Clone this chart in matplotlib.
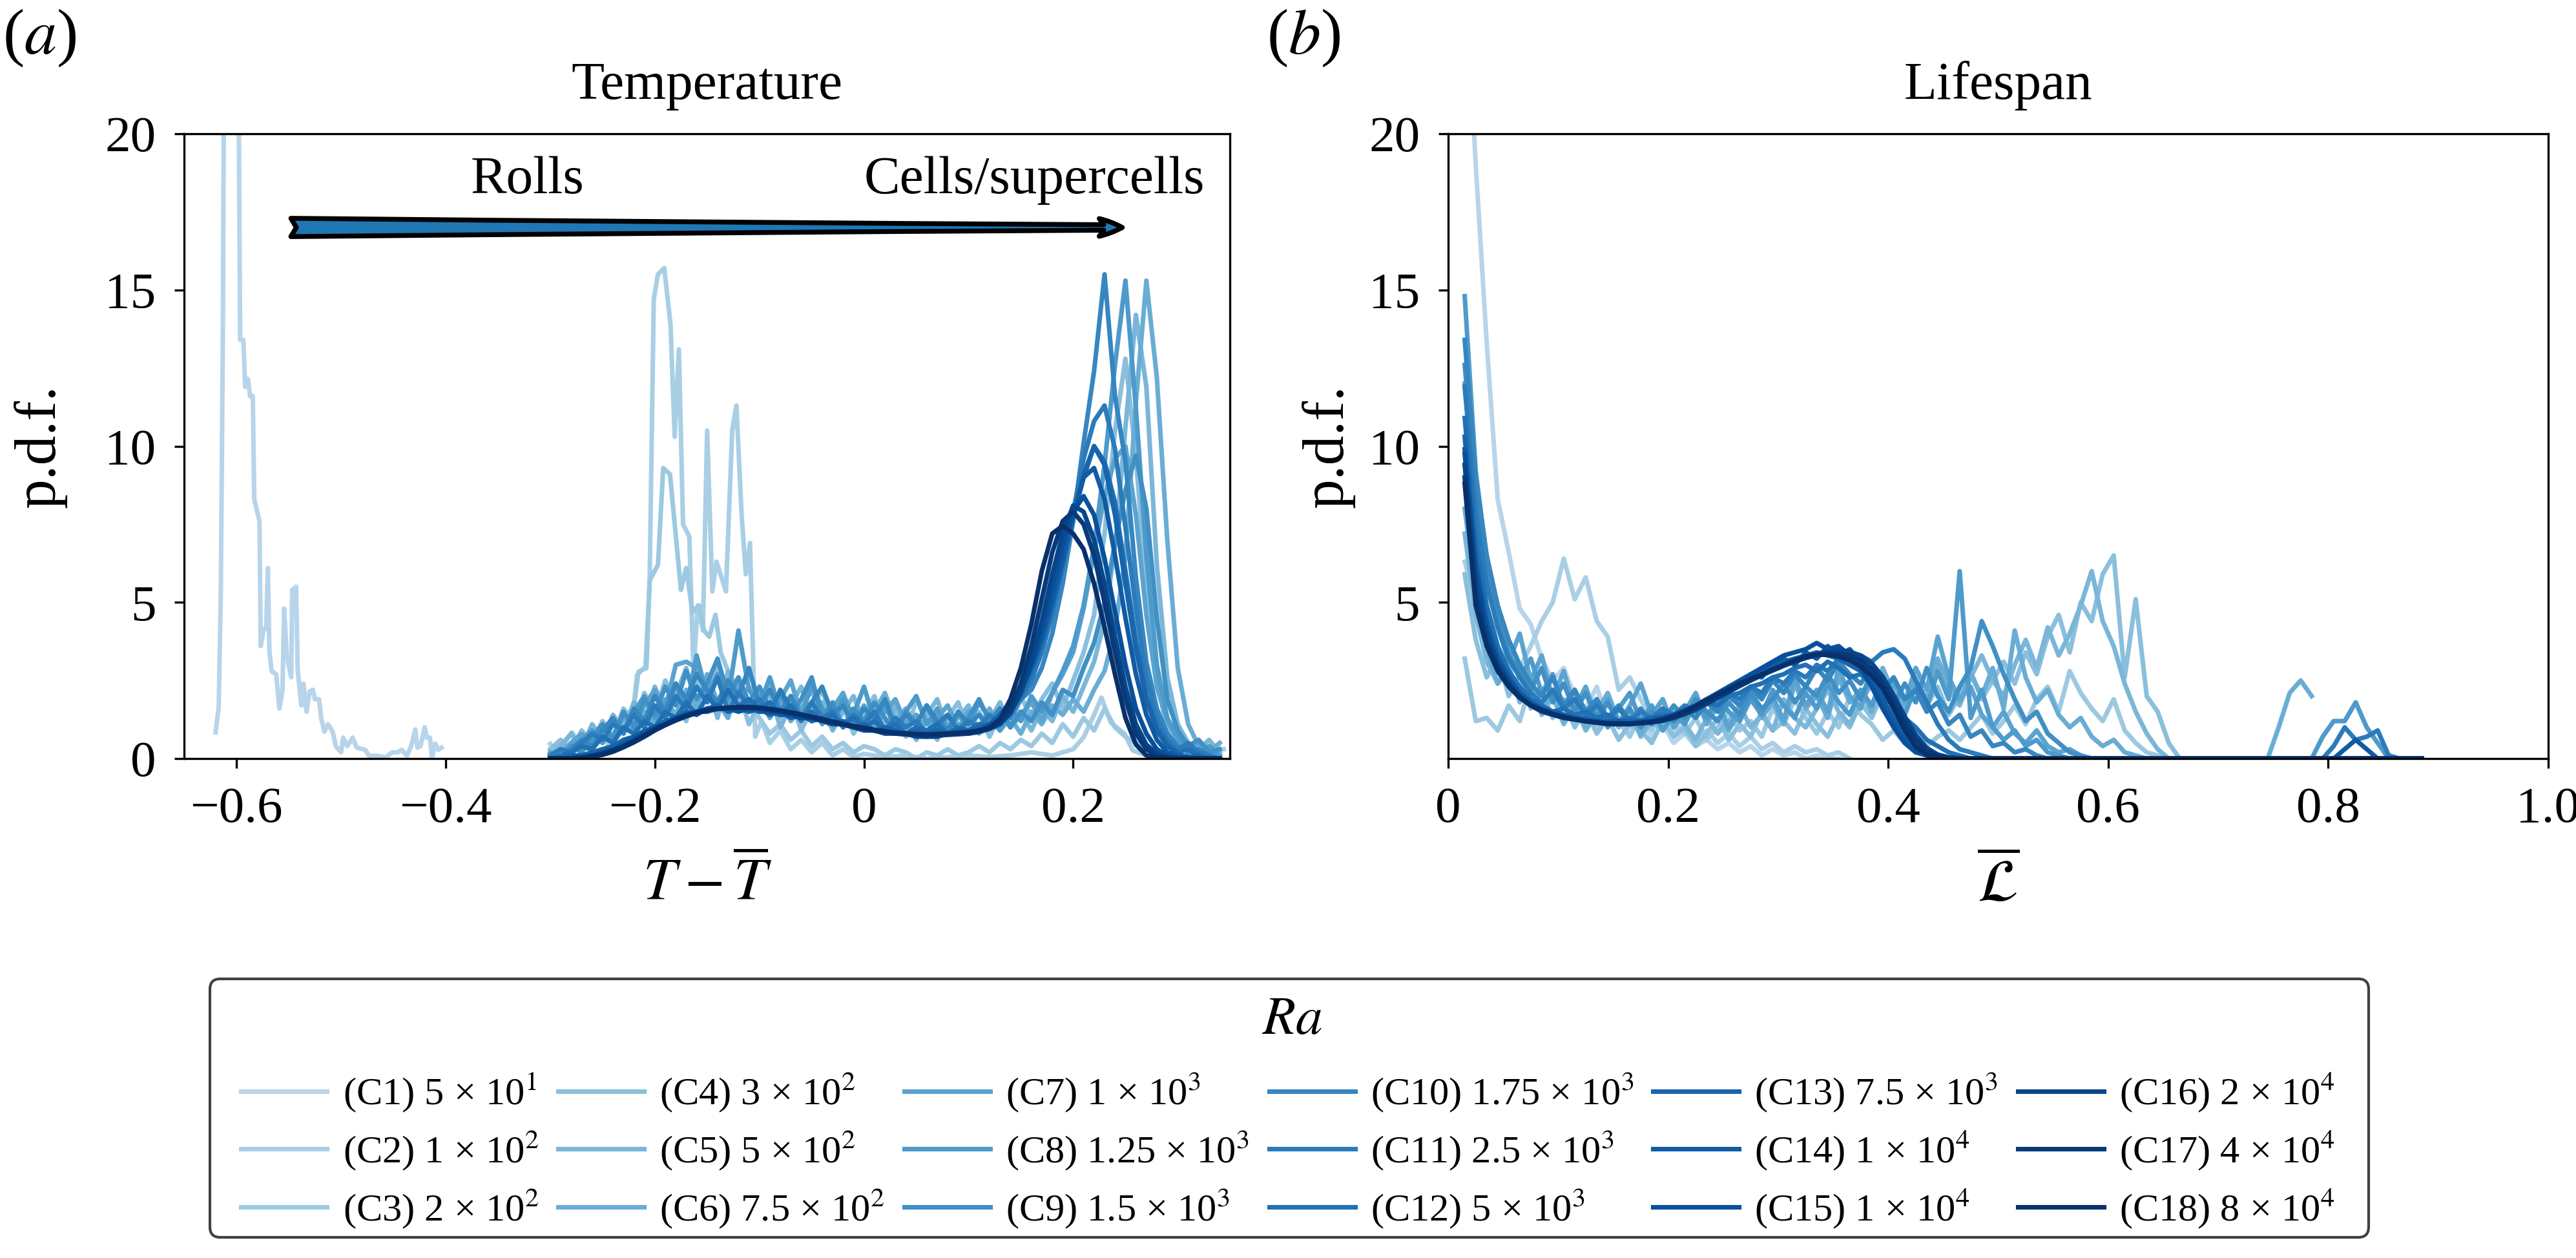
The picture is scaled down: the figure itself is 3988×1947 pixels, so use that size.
import numpy as np
import matplotlib
matplotlib.use('Agg')
import matplotlib.pyplot as plt
from matplotlib.patches import FancyBboxPatch

plt.rcParams['font.family'] = ['Liberation Serif', 'DejaVu Serif']
plt.rcParams['mathtext.fontset'] = 'stix'

# legend labels (Rayleigh numbers of the 18 cases)
ra_labels = [
    '(C1) 5 × 10$^{1}$', '(C2) 1 × 10$^{2}$', '(C3) 2 × 10$^{2}$',
    '(C4) 3 × 10$^{2}$', '(C5) 5 × 10$^{2}$', '(C6) 7.5 × 10$^{2}$',
    '(C7) 1 × 10$^{3}$', '(C8) 1.25 × 10$^{3}$', '(C9) 1.5 × 10$^{3}$',
    '(C10) 1.75 × 10$^{3}$', '(C11) 2.5 × 10$^{3}$', '(C12) 5 × 10$^{3}$',
    '(C13) 7.5 × 10$^{3}$', '(C14) 1 × 10$^{4}$', '(C15) 1 × 10$^{4}$',
    '(C16) 2 × 10$^{4}$', '(C17) 4 × 10$^{4}$', '(C18) 8 × 10$^{4}$',
]

# ---------------- panel (a): temperature p.d.f. ----------------
temp_c1_x = [-0.620, -0.617, -0.615, -0.613, -0.611, -0.605, -0.600, -0.5965, -0.5934, -0.5917,
             -0.589, -0.587, -0.5844, -0.583, -0.578, -0.5768, -0.574, -0.5716, -0.570, -0.5685,
             -0.5664, -0.562, -0.559, -0.556, -0.5544, -0.552, -0.5477, -0.5467, -0.543, -0.5415,
             -0.538, -0.536, -0.533, -0.530, -0.527, -0.525, -0.521, -0.519, -0.516, -0.5125,
             -0.508, -0.505, -0.500, -0.498, -0.494, -0.489, -0.485, -0.477, -0.473, -0.465,
             -0.458, -0.451, -0.446, -0.442, -0.437, -0.433, -0.429, -0.427, -0.424, -0.420,
             -0.418, -0.415, -0.413, -0.410, -0.407, -0.404]
temp_c1_y = [0.84, 1.64, 5.25, 13.6, 30.0, 38.0, 33.0, 13.4, 13.4, 11.9,
             12.15, 11.6, 11.6, 8.3, 7.6, 3.6, 4.15, 4.15, 6.1, 3.45,
             2.8, 2.7, 1.6, 2.2, 4.8, 3.3, 2.6, 5.4, 5.5, 2.85,
             1.7, 2.4, 1.5, 2.15, 2.2, 1.9, 1.9, 1.3, 0.86, 1.1,
             0.86, 0.4, 0.2, 0.67, 0.4, 0.67, 0.35, 0.28, 0.09, 0.09,
             0.03, 0.2, 0.2, 0.28, 0.09, 0.4, 0.93, 0.35, 0.4, 1.0,
             0.67, 0.67, 0.03, 0.48, 0.28, 0.35]

temp_c2_x = [-0.300, -0.293, -0.288, -0.279, -0.270, -0.263, -0.252, -0.244, -0.236, -0.228,
             -0.221, -0.217, -0.209, -0.205, -0.201, -0.197, -0.191, -0.185, -0.181, -0.177,
             -0.173, -0.167, -0.163, -0.159, -0.154, -0.150, -0.145, -0.141, -0.132, -0.126,
             -0.122, -0.117, -0.113, -0.109, -0.104, -0.098, -0.090, -0.080, -0.070, -0.060,
             -0.050, -0.040, -0.030, -0.020, -0.010, 0.000, 0.020, 0.040, 0.060, 0.080,
             0.100, 0.120, 0.140, 0.160, 0.180, 0.200, 0.210, 0.220, 0.227, 0.236,
             0.249, 0.257, 0.270, 0.290, 0.310, 0.330, 0.344]
temp_c2_y = [0.47, 0.10, 0.42, 0.84, 0.31, 0.31, 0.89, 0.40, 1.05, 1.52,
             1.42, 2.68, 2.94, 5.6, 14.7, 15.5, 15.7, 13.9, 10.3, 13.1,
             7.5, 7.1, 2.8, 4.9, 4.1, 10.5, 5.35, 6.3, 5.35, 10.5,
             11.3, 7.8, 5.9, 6.9, 0.7, 1.2, 0.5, 0.9, 0.3, 0.6,
             0.2, 0.5, 0.1, 0.3, 0.05, 0.15, 0.05, 0.1, 0.0, 0.05,
             0.1, 0.05, 0.1, 0.2, 0.1, 0.3, 0.68, 1.4, 1.95, 1.15,
             0.8, 0.26, 0.1, 0.05, 0.1, 0.2, 0.3]

temp_c3_x = [-0.300, -0.29, -0.28, -0.27, -0.26, -0.25, -0.24, -0.23, -0.221, -0.2156,
             -0.208, -0.205, -0.197, -0.192, -0.1855, -0.179, -0.175, -0.170, -0.164, -0.1575,
             -0.153, -0.148, -0.142, -0.137, -0.13, -0.12, -0.11, -0.10, -0.09, -0.08,
             -0.07, -0.06, -0.05, -0.04, -0.03, -0.02, -0.01, 0.0, 0.01, 0.02,
             0.03, 0.04, 0.05, 0.06, 0.07, 0.08, 0.09, 0.10, 0.11, 0.12,
             0.13, 0.14, 0.15, 0.16, 0.17, 0.18, 0.19, 0.20, 0.21, 0.22,
             0.23, 0.24, 0.25, 0.26, 0.27, 0.28, 0.29, 0.30]
temp_c3_y = [0.2, 0.5, 0.3, 0.7, 0.4, 0.9, 0.6, 1.2, 1.4, 2.78,
             2.9, 5.7, 6.2, 9.3, 9.1, 6.8, 5.4, 6.1, 4.7, 4.9,
             4.1, 3.9, 4.6, 3.4, 2.8, 2.2, 1.8, 1.3, 0.8, 1.1,
             0.6, 0.9, 0.4, 0.7, 0.3, 0.5, 0.2, 0.4, 0.3, 0.1,
             0.3, 0.2, 0.0, 0.2, 0.1, 0.3, 0.1, 0.2, 0.4, 0.2,
             0.5, 0.3, 0.6, 0.4, 0.8, 0.5, 1.1, 0.7, 1.3, 0.9,
             1.6, 1.0, 0.7, 0.5, 0.3, 0.2, 0.1, 0.0]

# C4..C18 are sampled on bins of 0.01 from -0.30 to 0.34
temp_bin_start = -0.30
temp_bin_width = 0.01

temp_c4 = [0.3, 0.6, 0.2, 0.9, 0.5, 1.2, 0.7, 1.6, 1.0, 2.1,
           1.4, 2.5, 1.8, 1.2, 2.6, 1.9, 3.0, 1.5, 2.2, 1.1,
           1.8, 2.4, 1.3, 1.9, 0.9, 1.6, 2.2, 1.1, 1.7, 0.8,
           1.4, 2.0, 1.0, 1.5, 0.7, 1.9, 1.2, 0.6, 1.3, 1.8,
           0.9, 1.5, 0.7, 1.4, 1.0, 2.0, 1.3, 1.9, 2.4, 1.6,
           2.5, 3.4, 4.6, 7.2, 10.5, 12.8, 9.6, 5.5, 2.4, 1.0,
           0.5, 0.2, 0.4, 0.1, 0.0]
temp_c5 = [0.1, 0.4, 0.8, 0.3, 1.1, 0.6, 1.4, 0.9, 1.8, 1.2,
           2.3, 1.5, 2.0, 2.9, 1.7, 2.4, 1.3, 2.8, 1.9, 2.3,
           1.5, 2.1, 1.0, 1.7, 2.3, 1.2, 1.8, 0.9, 1.5, 2.0,
           1.1, 1.6, 0.8, 1.7, 1.2, 0.6, 1.4, 1.9, 0.9, 1.3,
           1.7, 0.8, 1.2, 1.8, 1.1, 1.5, 0.9, 1.6, 1.2, 2.0,
           1.5, 2.3, 3.1, 4.4, 6.8, 10.6, 14.2, 11.9, 6.2, 2.6,
           1.1, 0.5, 0.3, 0.6, 0.2]
temp_c6 = [0.0, 0.2, 0.5, 0.3, 0.7, 1.0, 0.6, 1.3, 0.8, 1.5,
           1.1, 1.9, 1.4, 2.2, 1.6, 2.7, 1.8, 1.3, 2.4, 1.7,
           2.1, 1.4, 1.9, 1.2, 1.6, 2.2, 1.3, 1.0, 1.8, 1.4,
           0.9, 1.5, 2.1, 1.2, 1.6, 1.0, 0.7, 1.5, 1.1, 0.8,
           1.4, 1.0, 1.6, 0.9, 1.3, 0.8, 1.5, 1.1, 1.7, 1.4,
           1.9, 1.5, 2.2, 2.8, 4.1, 6.5, 11.4, 15.3, 12.2, 7.0,
           2.9, 1.1, 0.4, 0.2, 0.5]
temp_c7 = [0.2, 0.1, 0.5, 0.8, 0.4, 1.0, 0.7, 1.4, 1.1, 1.7,
           2.2, 1.6, 3.0, 3.1, 2.9, 2.1, 2.6, 1.7, 2.3, 1.5,
           2.0, 1.3, 1.9, 2.5, 1.4, 1.8, 1.1, 1.6, 2.1, 1.2,
           1.7, 1.0, 1.5, 1.9, 1.1, 1.4, 0.8, 1.3, 1.7, 1.0,
           1.5, 0.9, 1.2, 1.6, 1.0, 1.4, 1.8, 1.2, 2.1, 2.7,
           3.4, 4.8, 6.6, 8.4, 9.6, 10.0, 7.8, 4.6, 2.3, 1.2,
           0.6, 0.3, 0.5, 0.2, 0.1]
temp_c8 = [0.0, 0.3, 0.1, 0.6, 0.9, 0.5, 1.2, 0.8, 1.5, 2.0,
           1.3, 1.8, 2.4, 1.6, 3.3, 2.0, 2.7, 1.9, 4.1, 2.2,
           1.7, 2.6, 1.5, 2.0, 1.3, 2.4, 1.6, 1.2, 1.9, 1.4,
           2.3, 1.2, 1.7, 1.0, 1.5, 2.0, 1.1, 1.6, 0.9, 1.4,
           1.1, 1.8, 1.3, 0.9, 1.6, 1.2, 2.0, 1.5, 2.1, 2.8,
           3.6, 4.9, 6.8, 9.4, 12.6, 15.3, 11.2, 6.5, 3.0, 1.3,
           0.7, 0.3, 0.2, 0.4, 0.1]
temp_c9 = [0.1, 0.0, 0.4, 0.2, 0.7, 1.1, 0.6, 1.5, 1.0, 1.9,
           1.4, 2.3, 1.7, 2.8, 1.9, 2.4, 3.2, 2.0, 2.6, 1.8,
           2.3, 1.6, 2.1, 1.4, 1.9, 2.6, 1.3, 1.8, 1.0, 1.6,
           1.2, 1.8, 1.3, 0.8, 1.5, 1.1, 1.7, 1.0, 1.4, 0.9,
           1.3, 1.9, 1.2, 1.6, 1.0, 1.5, 1.2, 1.8, 1.4, 2.2,
           2.0, 2.9, 3.7, 5.0, 6.9, 8.6, 9.7, 8.0, 4.5, 1.9,
           0.9, 0.4, 0.6, 0.2, 0.3]
temp_c10 = [0.0, 0.1, 0.3, 0.6, 0.4, 0.9, 1.3, 0.8, 1.6, 1.2,
            2.0, 1.5, 2.4, 1.9, 2.7, 2.2, 1.8, 2.5, 2.0, 2.9,
            1.7, 2.2, 1.5, 2.0, 1.3, 1.8, 2.3, 1.4, 1.7, 1.1,
            1.6, 1.3, 1.9, 1.0, 1.4, 1.1, 1.7, 1.2, 0.9, 1.5,
            1.1, 1.4, 1.0, 1.6, 1.3, 1.9, 2.2, 2.9, 4.0, 5.6,
            7.6, 10.1, 12.4, 15.5, 11.6, 9.5, 5.8, 3.1, 1.6, 0.8,
            0.4, 0.2, 0.3, 0.1, 0.0]
temp_c11 = [0.1, 0.3, 0.2, 0.5, 0.8, 0.6, 1.1, 0.9, 1.4, 1.0,
            1.7, 1.3, 2.0, 1.6, 2.3, 1.8, 2.6, 1.5, 2.1, 1.7,
            1.9, 1.4, 2.2, 1.6, 1.2, 1.8, 1.3, 1.5, 1.0, 1.4,
            1.1, 1.5, 0.9, 1.3, 1.0, 1.2, 0.8, 1.1, 1.4, 0.9,
            1.2, 1.0, 1.4, 1.1, 1.6, 1.9, 2.5, 3.4, 4.6, 6.1,
            7.9, 9.6, 10.8, 11.3, 9.9, 7.4, 4.8, 2.6, 1.3, 0.6,
            0.3, 0.5, 0.2, 0.1, 0.0]
temp_c12 = [0.0, 0.1, 0.2, 0.4, 0.3, 0.7, 0.5, 1.0, 0.8, 1.2,
            1.0, 1.5, 1.3, 1.8, 1.4, 2.0, 1.6, 2.2, 1.7, 1.9,
            1.6, 1.8, 1.4, 1.7, 1.3, 1.5, 1.2, 1.4, 1.1, 1.3,
            1.0, 1.2, 0.9, 1.1, 0.8, 1.0, 0.9, 1.1, 0.8, 1.0,
            0.9, 1.1, 1.0, 1.3, 1.6, 2.0, 2.7, 3.6, 4.8, 6.2,
            7.7, 9.1, 10.0, 9.5, 8.2, 6.0, 3.8, 2.0, 1.0, 0.5,
            0.2, 0.3, 0.1, 0.0, 0.0]
temp_c13 = [0.0, 0.0, 0.1, 0.1, 0.2, 0.3, 0.4, 0.6, 0.7, 0.9,
            1.0, 1.2, 1.3, 1.5, 1.4, 1.6, 1.7, 1.5, 1.6, 1.5,
            1.6, 1.4, 1.5, 1.3, 1.4, 1.2, 1.3, 1.1, 1.2, 1.0,
            1.1, 0.9, 1.0, 0.9, 0.8, 0.9, 0.8, 0.9, 0.8, 0.9,
            0.9, 1.0, 1.1, 1.4, 1.8, 2.3, 3.0, 3.9, 5.0, 6.3,
            7.7, 9.0, 10.0, 9.4, 7.8, 5.6, 3.5, 1.9, 0.9, 0.4,
            0.15, 0.05, 0.1, 0.0, 0.0]
temp_c14 = [0.0, 0.0, 0.0, 0.1, 0.1, 0.2, 0.3, 0.5, 0.7, 0.8,
            1.0, 1.1, 1.3, 1.4, 1.5, 1.5, 1.6, 1.6, 1.5, 1.6,
            1.5, 1.5, 1.4, 1.4, 1.3, 1.3, 1.2, 1.2, 1.1, 1.0,
            1.0, 0.9, 0.9, 0.8, 0.8, 0.8, 0.7, 0.8, 0.8, 0.8,
            0.8, 0.9, 1.1, 1.3, 1.7, 2.2, 2.9, 3.8, 5.0, 6.4,
            7.8, 9.0, 9.3, 8.3, 6.5, 4.5, 2.7, 1.4, 0.6, 0.2,
            0.08, 0.02, 0.0, 0.0, 0.0]
temp_c15 = [0.0, 0.0, 0.0, 0.0, 0.1, 0.2, 0.3, 0.4, 0.6, 0.8,
            1.0, 1.1, 1.3, 1.4, 1.5, 1.6, 1.6, 1.6, 1.6, 1.6,
            1.6, 1.5, 1.5, 1.4, 1.3, 1.3, 1.2, 1.1, 1.1, 1.0,
            0.9, 0.9, 0.8, 0.8, 0.8, 0.7, 0.7, 0.7, 0.8, 0.8,
            0.8, 0.9, 1.0, 1.2, 1.6, 2.2, 3.0, 4.1, 5.4, 6.8,
            7.9, 8.4, 7.8, 6.4, 4.7, 3.0, 1.6, 0.8, 0.3, 0.1,
            0.03, 0.0, 0.0, 0.0, 0.0]
temp_c16 = [0.0, 0.0, 0.0, 0.0, 0.1, 0.15, 0.25, 0.4, 0.55, 0.75,
            0.95, 1.1, 1.25, 1.38, 1.48, 1.55, 1.6, 1.62, 1.63, 1.62,
            1.6, 1.55, 1.5, 1.44, 1.37, 1.3, 1.22, 1.15, 1.08, 1.01,
            0.95, 0.89, 0.84, 0.8, 0.77, 0.75, 0.74, 0.74, 0.76, 0.78,
            0.8, 0.85, 0.95, 1.1, 1.45, 2.1, 3.1, 4.4, 5.9, 7.2,
            8.1, 7.9, 7.0, 5.6, 3.9, 2.3, 1.1, 0.45, 0.15, 0.04,
            0.01, 0.0, 0.0, 0.0, 0.0]
temp_c17 = [0.0, 0.0, 0.0, 0.02, 0.06, 0.12, 0.22, 0.36, 0.52, 0.7,
            0.9, 1.07, 1.22, 1.35, 1.46, 1.54, 1.59, 1.62, 1.64, 1.63,
            1.61, 1.57, 1.52, 1.46, 1.39, 1.32, 1.24, 1.16, 1.09, 1.02,
            0.96, 0.9, 0.85, 0.81, 0.78, 0.76, 0.75, 0.75, 0.77, 0.79,
            0.82, 0.88, 0.98, 1.15, 1.6, 2.4, 3.6, 5.1, 6.6, 7.6,
            7.9, 7.5, 6.5, 5.0, 3.4, 1.9, 0.8, 0.3, 0.08, 0.02,
            0.0, 0.0, 0.0, 0.0, 0.0]
temp_c18 = [0.0, 0.0, 0.01, 0.03, 0.07, 0.14, 0.25, 0.39, 0.55, 0.73,
            0.92, 1.09, 1.24, 1.37, 1.47, 1.55, 1.6, 1.63, 1.65, 1.65,
            1.63, 1.59, 1.54, 1.48, 1.41, 1.34, 1.26, 1.18, 1.11, 1.04,
            0.98, 0.92, 0.87, 0.83, 0.8, 0.78, 0.77, 0.78, 0.8, 0.83,
            0.85, 0.9, 1.0, 1.25, 1.9, 2.9, 4.3, 6.0, 7.2, 7.45,
            7.2, 6.7, 5.6, 4.2, 2.7, 1.3, 0.45, 0.1, 0.03, 0.01,
            0.0, 0.0, 0.0, 0.0, 0.0]

# ---------------- panel (b): lifespan p.d.f. ----------------
# sampled on bins of 0.01 starting at 0.015; where given, the curve then stays at zero up to life_tail_end
life_bin_start = 0.015
life_bin_width = 0.01

life_c1 = [26.0, 19.0, 13.3, 8.3, 6.6, 4.8, 4.3, 3.2, 2.5, 2.9,
           2.0, 1.6, 2.3, 1.2, 1.7, 0.9, 1.3, 0.7, 1.1, 0.5,
           0.8, 0.4, 0.6, 0.3, 0.5, 0.2, 0.4, 0.1, 0.3, 0.1,
           0.2, 0.0, 0.1, 0.0, 0.0]
life_c2 = [6.3, 5.0, 3.6, 3.0, 3.3, 2.9, 3.6, 4.4, 5.0, 6.4,
           5.1, 5.8, 4.4, 3.9, 2.2, 2.6, 1.9, 1.2, 1.5, 0.8,
           1.1, 0.6, 0.9, 0.5, 0.8, 0.4, 0.7, 0.3, 0.5, 0.2,
           0.4, 0.2, 0.3, 0.1, 0.2, 0.0]
life_c3 = [3.2, 1.2, 1.3, 0.9, 1.7, 1.2, 2.4, 1.6, 1.9, 1.3,
           2.1, 1.5, 1.0, 1.8, 1.2, 0.7, 1.4, 0.9, 1.6, 1.1,
           0.8, 1.3, 0.6, 1.0, 1.5, 0.9, 1.2, 0.7, 1.6, 1.1,
           1.9, 1.3, 0.8, 1.5, 1.0, 2.0, 1.4, 1.1, 0.6, 0.9,
           0.5, 0.8, 0.4, 0.7, 0.9, 0.6, 1.0, 1.4, 0.8, 1.2,
           1.7, 1.1, 1.9, 2.3, 1.5, 2.8, 2.1, 1.6, 1.2, 1.9,
           0.9, 0.5, 0.2, 0.1, 0.0, 0.0]
life_c4 = [5.9, 3.8, 2.6, 3.3, 2.0, 2.7, 1.6, 2.2, 1.3, 1.9,
           1.0, 1.6, 0.8, 1.3, 0.6, 1.1, 0.9, 0.5, 1.2, 0.7,
           1.0, 0.4, 0.8, 1.3, 0.6, 1.1, 0.7, 1.5, 0.9, 1.2,
           0.8, 1.6, 1.1, 0.7, 1.4, 1.0, 1.8, 1.3, 2.1, 1.5,
           1.9, 2.6, 1.7, 2.3, 1.4, 2.0, 2.8, 1.9, 2.5, 3.1,
           2.4, 3.4, 2.7, 3.9, 4.6, 3.4, 5.0, 4.4, 5.9, 6.5,
           2.6, 5.1, 2.0, 1.5, 0.5, 0.0]
life_c5 = [7.2, 4.6, 3.1, 2.4, 3.0, 1.8, 2.5, 1.4, 2.0, 1.1,
           1.7, 0.9, 1.4, 1.9, 1.0, 1.5, 0.7, 1.2, 0.9, 1.6,
           1.1, 0.6, 1.3, 0.8, 1.2, 1.7, 1.0, 1.4, 0.9, 1.9,
           1.3, 1.0, 1.6, 2.2, 1.5, 1.1, 1.8, 2.4, 1.6, 2.0,
           1.4, 2.5, 1.9, 3.0, 2.2, 1.7, 2.6, 3.3, 2.5, 2.0,
           3.0, 3.8, 2.9, 4.2, 3.3, 4.0, 4.9, 6.0, 4.4, 3.6,
           2.4, 1.5, 0.8, 0.3, 0.0]
life_c6 = [8.0, 5.3, 3.5, 2.4, 2.9, 1.9, 2.6, 1.5, 2.2, 1.2,
           1.8, 1.0, 1.5, 2.1, 1.2, 1.6, 0.8, 1.3, 1.9, 1.0,
           1.4, 2.0, 1.1, 1.7, 0.9, 1.5, 2.2, 1.3, 1.8, 1.1,
           2.4, 1.6, 2.0, 1.3, 2.6, 1.8, 2.2, 1.5, 2.9, 2.1,
           1.6, 2.5, 1.9, 3.2, 2.3, 1.8, 2.7, 2.0, 2.9, 1.6,
           4.1, 2.6, 1.8, 2.2, 1.4, 1.0, 1.3, 0.7, 0.4, 0.6,
           0.2, 0.1, 0.0, 0.0, 0.0, 0.0, 0.0, 0.0, 0.0, 0.0,
           0.0, 0.0, 0.0, 0.0, 1.0, 2.1, 2.5, 2.0]
life_c7 = [12.0, 8.1, 5.6, 4.2, 3.1, 4.0, 2.5, 3.3, 1.9, 2.8,
           1.6, 2.3, 1.3, 1.9, 1.1, 1.7, 2.4, 1.4, 1.9, 1.0,
           1.5, 2.1, 1.2, 1.8, 1.0, 1.6, 2.3, 1.4, 2.0, 1.2,
           2.6, 1.7, 2.2, 1.5, 2.9, 2.0, 1.6, 2.7, 1.9, 2.4,
           1.8, 2.9, 2.2, 3.9, 2.6, 1.9, 2.3, 1.4, 1.0, 1.5,
           0.8, 0.5, 0.9, 0.4, 0.2, 0.3, 0.1, 0.0]
life_c8 = [14.8, 9.2, 6.4, 4.5, 3.4, 2.6, 3.2, 2.1, 2.7, 1.6,
           2.2, 1.3, 1.9, 1.0, 1.6, 2.1, 1.2, 1.7, 0.9, 1.4,
           1.1, 1.8, 1.3, 2.0, 1.5, 1.2, 1.9, 1.4, 2.2, 1.7,
           1.3, 2.1, 1.6, 2.4, 1.8, 1.4, 2.2, 1.7, 2.6, 1.9,
           1.4, 2.3, 1.6, 2.8, 1.9, 6.0, 1.3, 2.2, 1.0, 0.6,
           0.9, 0.4, 0.6, 0.2, 0.1, 0.0, 0.0, 0.0, 0.0, 0.0,
           0.0, 0.0, 0.0, 0.0, 0.0, 0.0, 0.0, 0.0, 0.0, 0.0,
           0.0, 0.0, 0.0, 0.0, 0.0, 0.0, 0.0, 0.0, 0.7, 1.2,
           1.2, 1.8, 1.0, 0.5, 0.0]
life_c9 = [12.6, 8.5, 6.0, 4.6, 3.3, 2.8, 2.2, 2.9, 1.8, 2.4,
           1.5, 2.1, 1.3, 1.8, 1.1, 1.6, 1.0, 1.5, 1.2, 1.7,
           1.3, 1.9, 1.5, 1.2, 1.8, 1.4, 2.1, 1.6, 1.9, 2.4,
           1.8, 2.3, 2.0, 2.7, 2.1, 2.5, 1.9, 2.8, 2.2, 1.7,
           2.4, 1.8, 2.9, 2.0, 1.5, 2.3, 2.9, 4.4, 3.6, 2.7,
           1.9, 1.2, 1.5, 0.8, 0.5, 0.2, 0.1, 0.0]
life_c10 = [13.4, 9.0, 6.5, 4.9, 3.8, 3.0, 2.4, 2.0, 2.6, 1.7,
            2.2, 1.5, 1.9, 1.3, 1.7, 1.2, 1.6, 1.1, 1.5, 1.2,
            1.6, 1.3, 1.8, 1.5, 2.0, 1.7, 2.3, 1.9, 2.5, 2.1,
            2.7, 2.3, 2.9, 2.5, 3.1, 2.7, 2.4, 2.9, 2.2, 2.6,
            1.9, 2.2, 1.5, 1.8, 1.1, 1.4, 0.7, 0.9, 0.4, 0.5,
            0.2, 0.3, 0.1, 0.0]
life_c11 = [11.9, 7.9, 5.6, 4.2, 3.2, 2.6, 2.1, 1.8, 2.2, 1.6,
            1.9, 1.4, 1.7, 1.3, 1.6, 1.2, 1.5, 1.3, 1.6, 1.4,
            1.7, 1.5, 1.9, 1.7, 2.1, 1.9, 2.3, 2.1, 2.6, 2.4,
            2.8, 2.6, 3.0, 2.8, 3.2, 3.0, 3.3, 3.1, 3.4, 3.5,
            3.2, 2.5, 1.8, 1.1, 0.6, 0.3, 0.2, 0.1, 0.0, 0.0,
            0.0, 0.0, 0.0, 0.0, 0.0, 0.0, 0.0, 0.0, 0.0, 0.0,
            0.0, 0.0, 0.0, 0.0, 0.0, 0.0, 0.0, 0.0, 0.0, 0.0,
            0.0, 0.0, 0.0, 0.0, 0.0, 0.0, 0.0, 0.0, 0.0, 0.4,
            1.0, 0.6, 0.7, 0.9, 0.1, 0.0]
life_c12 = [10.9, 7.0, 4.9, 3.6, 2.8, 2.3, 1.9, 1.7, 1.5, 1.6,
            1.4, 1.5, 1.3, 1.4, 1.2, 1.3, 1.2, 1.3, 1.4, 1.3,
            1.5, 1.6, 1.8, 1.7, 2.0, 2.1, 2.3, 2.4, 2.6, 2.7,
            2.9, 3.0, 2.8, 3.1, 2.9, 2.6, 2.7, 2.4, 2.0, 1.7,
            1.3, 1.0, 0.6, 0.4, 0.2, 0.1, 0.0]
life_c13 = [10.3, 6.4, 4.4, 3.3, 2.6, 2.1, 1.8, 1.6, 1.5, 1.4,
            1.3, 1.3, 1.2, 1.2, 1.2, 1.2, 1.2, 1.3, 1.3, 1.4,
            1.5, 1.6, 1.8, 2.0, 2.2, 2.4, 2.6, 2.8, 3.0, 3.1,
            3.2, 3.3, 3.4, 3.3, 3.2, 3.0, 2.8, 2.4, 1.9, 1.3,
            0.8, 0.4, 0.2, 0.1, 0.0]
life_c14 = [9.9, 6.2, 4.3, 3.2, 2.6, 2.1, 1.8, 1.6, 1.5, 1.4,
            1.3, 1.2, 1.2, 1.1, 1.2, 1.1, 1.2, 1.2, 1.3, 1.4,
            1.5, 1.7, 1.9, 2.0, 2.3, 2.4, 2.7, 2.6, 3.0, 3.2,
            3.0, 3.4, 3.2, 3.6, 3.3, 3.5, 3.1, 2.6, 1.9, 1.2,
            0.7, 0.3, 0.1, 0.0, 0.0, 0.0, 0.0, 0.0, 0.0, 0.0,
            0.0, 0.0, 0.0, 0.0, 0.0, 0.0, 0.0, 0.0, 0.0, 0.0,
            0.0, 0.0, 0.0, 0.0, 0.0, 0.0, 0.0, 0.0, 0.0, 0.0,
            0.0, 0.0, 0.0, 0.0, 0.0, 0.0, 0.0, 0.0, 0.0, 0.0,
            0.3, 0.6, 0.3, 0.0]
life_c15 = [9.75, 6.0, 4.1, 3.1, 2.5, 2.0, 1.7, 1.5, 1.4, 1.3,
            1.25, 1.2, 1.15, 1.1, 1.1, 1.1, 1.15, 1.2, 1.3, 1.4,
            1.55, 1.7, 1.9, 2.1, 2.3, 2.5, 2.7, 2.9, 3.1, 3.3,
            3.4, 3.5, 3.7, 3.5, 3.6, 3.3, 2.9, 2.3, 1.6, 1.0,
            0.5, 0.2, 0.1, 0.0]
life_c16 = [9.4, 5.6, 3.9, 3.0, 2.4, 2.0, 1.7, 1.55, 1.43, 1.34,
            1.27, 1.21, 1.17, 1.14, 1.12, 1.12, 1.13, 1.16, 1.21, 1.3,
            1.42, 1.57, 1.75, 1.94, 2.13, 2.32, 2.5, 2.67, 2.83, 2.98,
            3.12, 3.25, 3.35, 3.42, 3.45, 3.42, 3.3, 3.05, 2.62, 2.02,
            1.35, 0.75, 0.34, 0.13, 0.04, 0.01, 0.0]
life_c17 = [9.0, 5.2, 3.7, 2.9, 2.35, 1.98, 1.72, 1.55, 1.42, 1.33,
            1.26, 1.2, 1.16, 1.13, 1.11, 1.11, 1.13, 1.17, 1.23, 1.33,
            1.46, 1.62, 1.8, 1.98, 2.16, 2.34, 2.51, 2.67, 2.82, 2.97,
            3.1, 3.22, 3.31, 3.36, 3.36, 3.3, 3.14, 2.86, 2.42, 1.82,
            1.15, 0.6, 0.25, 0.09, 0.03, 0.0]
life_c18 = [8.8, 4.9, 3.6, 2.8, 2.3, 1.95, 1.7, 1.55, 1.42, 1.32,
            1.25, 1.19, 1.15, 1.12, 1.11, 1.12, 1.14, 1.18, 1.24, 1.35,
            1.5, 1.68, 1.87, 2.05, 2.22, 2.4, 2.55, 2.7, 2.85, 3.0,
            3.15, 3.27, 3.33, 3.32, 3.27, 3.15, 2.95, 2.65, 2.25, 1.6,
            0.92, 0.38, 0.12, 0.04, 0.01, 0.0]

life_tail_end = [None, None, None, None, None, None, 0.885, 0.885, 0.885,
                 0.885, 0.885, 0.885, 0.885, 0.885, 0.885, 0.885, 0.885, 0.885]

temp_grid_series = [temp_c4, temp_c5, temp_c6, temp_c7, temp_c8, temp_c9, temp_c10,
                    temp_c11, temp_c12, temp_c13, temp_c14, temp_c15, temp_c16,
                    temp_c17, temp_c18]
life_series = [life_c1, life_c2, life_c3, life_c4, life_c5, life_c6, life_c7, life_c8,
               life_c9, life_c10, life_c11, life_c12, life_c13, life_c14, life_c15,
               life_c16, life_c17, life_c18]

# ------------------------------------------------------------------
colors = plt.cm.Blues(np.linspace(0.3, 1.0, 18))
lw = 1.7

W, H = 3988, 1947
fig = plt.figure(figsize=(W / 300, H / 300), dpi=300)
ax_a = fig.add_axes([0.0715, 0.3970, 0.4060, 0.4967])
ax_b = fig.add_axes([0.5622, 0.3970, 0.4270, 0.4967])

# panel (a)
temp_curves = [(temp_c1_x, temp_c1_y), (temp_c2_x, temp_c2_y), (temp_c3_x, temp_c3_y)]
for vals in temp_grid_series:
    xs = np.round(temp_bin_start + temp_bin_width * np.arange(len(vals)), 4)
    temp_curves.append((xs, vals))

handles = []
for i, (xs, ys) in enumerate(temp_curves):
    n = min(len(xs), len(ys))
    ln, = ax_a.plot(xs[:n], ys[:n], color=colors[i], lw=lw, label=ra_labels[i])
    handles.append(ln)

# panel (b)
for i, vals in enumerate(life_series):
    xs = list(np.round(life_bin_start + life_bin_width * np.arange(len(vals)), 4))
    ys = list(vals)
    if life_tail_end[i] is not None:
        xs.append(life_tail_end[i])
        ys.append(0.0)
    ax_b.plot(xs, ys, color=colors[i], lw=lw)

tick_fs = 19
label_fs = 22

ax_a.set_xlim(-0.65, 0.35)
ax_a.set_ylim(0, 20)
ax_a.set_xticks([-0.6, -0.4, -0.2, 0, 0.2])
ax_a.set_xticklabels(['\u22120.6', '\u22120.4', '\u22120.2', '0', '0.2'])
ax_a.set_yticks([0, 5, 10, 15, 20])
ax_a.set_yticklabels(['0', '5', '10', '15', '20'])
ax_a.set_title('Temperature', fontsize=20, pad=13)
ax_a.set_xlabel(r'$T-\overline{T}$', fontsize=label_fs)
ax_a.set_ylabel('p.d.f.', fontsize=label_fs)

ax_b.set_xlim(0, 1.0)
ax_b.set_ylim(0, 20)
ax_b.set_xticks([0, 0.2, 0.4, 0.6, 0.8, 1.0])
ax_b.set_xticklabels(['0', '0.2', '0.4', '0.6', '0.8', '1.0'])
ax_b.set_yticks([5, 10, 15, 20])
ax_b.set_yticklabels(['5', '10', '15', '20'])
ax_b.set_title('Lifespan', fontsize=20, pad=13)
ax_b.set_xlabel(r'$\overline{\mathcal{L}}$', fontsize=label_fs)
ax_b.set_ylabel('p.d.f.', fontsize=label_fs)

for ax in (ax_a, ax_b):
    ax.tick_params(labelsize=tick_fs, length=3.5, width=0.8, pad=7)
    ax.xaxis.set_label_coords(0.5, -0.155)
    ax.xaxis.label.set_va('top')
ax_a.yaxis.set_label_coords(-0.112, 0.5)
ax_b.yaxis.set_label_coords(-0.085, 0.5)

# regime arrow and annotations
ax_a.annotate('', xy=(0.247, 17.0), xytext=(-0.548, 17.0),
              arrowprops=dict(arrowstyle='fancy,head_length=0.86,head_width=0.66,tail_width=0.68',
                              fc='#1f77b4', ec='black', lw=1.8, shrinkA=0, shrinkB=0,
                              mutation_scale=10))
ax_a.text(-0.322, 18.1, 'Rolls', fontsize=20, ha='center', va='baseline')
ax_a.text(0.163, 18.1, 'Cells/supercells', fontsize=20, ha='center', va='baseline')

fig.text(0.001, 0.970, '($a$)', fontsize=24, ha='left', va='center')
fig.text(0.4917, 0.970, '($b$)', fontsize=24, ha='left', va='center')

# legend: frame, title and entries placed separately to follow the reference spacing
frame = FancyBboxPatch((325 / W, 1 - 1915 / H), 3342 / W, 400 / H,
                       boxstyle='round,pad=0,rounding_size=0.004', mutation_aspect=W / H,
                       transform=fig.transFigure, facecolor='white', edgecolor='0.25',
                       linewidth=1.0, zorder=1)
fig.patches.append(frame)
fig.text(0.5015, 1 - 1580 / H, '$Ra$', fontsize=20, ha='center', va='center', zorder=6)

leg = fig.legend(handles, ra_labels, loc='upper center', bbox_to_anchor=(0.5, 1 - 1657 / H),
                 borderaxespad=0, borderpad=0, frameon=False, ncol=6, fontsize=14.5,
                 handlelength=2.2, columnspacing=0.5, handletextpad=0.4, labelspacing=0.37)
leg.set_zorder(6)

fig.savefig('out.png', dpi=300)
